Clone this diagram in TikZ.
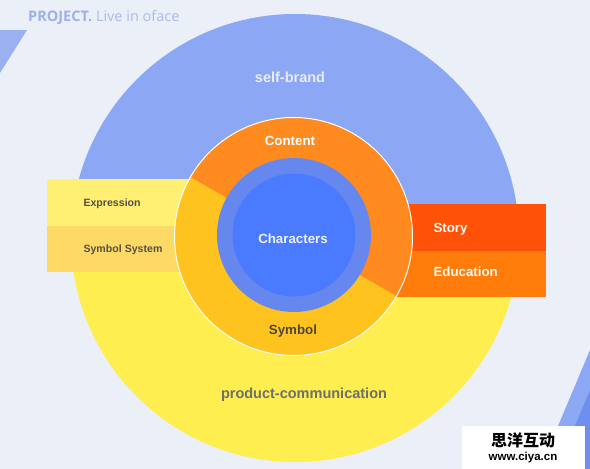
\documentclass[tikz,border=0pt]{standalone}
\usepackage{fontspec}
\setmainfont{Liberation Sans}
\newfontfamily\titlefont{Open Sans}
\newfontfamily\cjk{Noto Sans CJK SC}
\definecolor{bg}{RGB}{235,239,248}
\definecolor{bigblue}{RGB}{140,168,245}
\definecolor{bigyellow}{RGB}{255,238,80}
\definecolor{exprcol}{RGB}{255,239,115}
\definecolor{symsyscol}{RGB}{255,217,102}
\definecolor{storycol}{RGB}{255,82,8}
\definecolor{educol}{RGB}{255,124,10}
\definecolor{ringorange}{RGB}{255,138,31}
\definecolor{ringyellow}{RGB}{255,195,31}
\definecolor{midblue}{RGB}{102,136,238}
\definecolor{coreblue}{RGB}{74,122,255}
\definecolor{titleA}{RGB}{157,176,235}
\definecolor{titleB}{RGB}{172,186,232}
\definecolor{darkstripe}{RGB}{110,142,240}
\definecolor{cornerblue}{RGB}{154,176,240}
\definecolor{darktext}{RGB}{85,80,70}
\definecolor{graytext}{RGB}{110,110,110}
\tikzset{
  biglbl/.style={font=\bfseries\fontsize{14.5}{17}\selectfont},
  lbl/.style={font=\bfseries\fontsize{13.3}{16}\selectfont},
  smalllbl/.style={font=\bfseries\fontsize{10.6}{13}\selectfont, text=darktext, anchor=west},
}
\begin{document}
\begin{tikzpicture}[x=1pt,y=-1pt]
\useasboundingbox (0,0) rectangle (590,469);
\fill[bg] (0,0) rectangle (590,469);
% decorations
\fill[cornerblue] (0,30) -- (27,30) -- (0,73) -- cycle;
\fill[bigblue] (540,469) -- (590,350) -- (590,469) -- cycle;
\fill[darkstripe] (557,469) -- (590,390) -- (590,469) -- cycle;
% title
\node[anchor=base west, inner sep=0pt] (title) at (28,21)
  {\titlefont\fontsize{14.5}{17}\selectfont\textcolor{titleA}{\bfseries PROJECT.} \textcolor{titleB}{Live in oface}};
% big circle halves
\begin{scope}
  \clip (0,0) rectangle (590,238);
  \fill[bigblue] (295,238) circle[radius=224];
\end{scope}
\begin{scope}
  \clip (0,238) rectangle (590,469);
  \fill[bigyellow] (295,238) circle[radius=224];
\end{scope}
% side rectangles
\fill[exprcol] (47,179) rectangle (230,226);
\fill[symsyscol] (47,226) rectangle (230,272);
\fill[storycol] (380,204) rectangle (546,251);
\fill[educol] (380,251) rectangle (546,297);
% ring
\fill[ringyellow] (293.5,236.5) circle[radius=119];
\begin{scope}
  \clip (120.5,136.5) -- (466.5,336.5) -- (466.5,0) -- (120.5,0) -- cycle;
  \fill[ringorange] (293.5,236.5) circle[radius=119];
\end{scope}
\draw[white, line width=1pt] (293.5,236.5) circle[radius=119];
\fill[midblue] (294,235) circle[radius=77];
\fill[coreblue] (294,235) circle[radius=61.5];
% labels
\node[biglbl, text=white!92!blue] (selfbrand) at (290,77.5) {self-brand};
\node[biglbl, text=graytext] (product) at (304,394.5) {product-communication};
\node[lbl, text=white] (content) at (290,140.5) {Content};
\node[lbl, text=white!94!blue] (characters) at (293,238.5) {Characters};
\node[lbl, text=darktext!90!black] (symbol) at (293,331.5) {Symbol};
\node[smalllbl] (expression) at (80,203.5) {Expression};
\node[smalllbl] (symsys) at (80,249.5) {Symbol System};
\node[lbl, text=white!95!orange, anchor=west] (story) at (430,229.5) {Story};
\node[lbl, text=white!95!orange, anchor=west] (education) at (430,271.5) {Education};
% watermark
\fill[white] (462,426) rectangle (585,469);
\node[font=\cjk\bfseries\fontsize{16}{18}\selectfont, inner sep=0pt] (wmcn) at (523,440) {思洋互动};
\node[font=\bfseries\fontsize{11.5}{13}\selectfont, inner sep=0pt] (wmurl) at (523,458) {www.ciya.cn};
\end{tikzpicture}
\end{document}
